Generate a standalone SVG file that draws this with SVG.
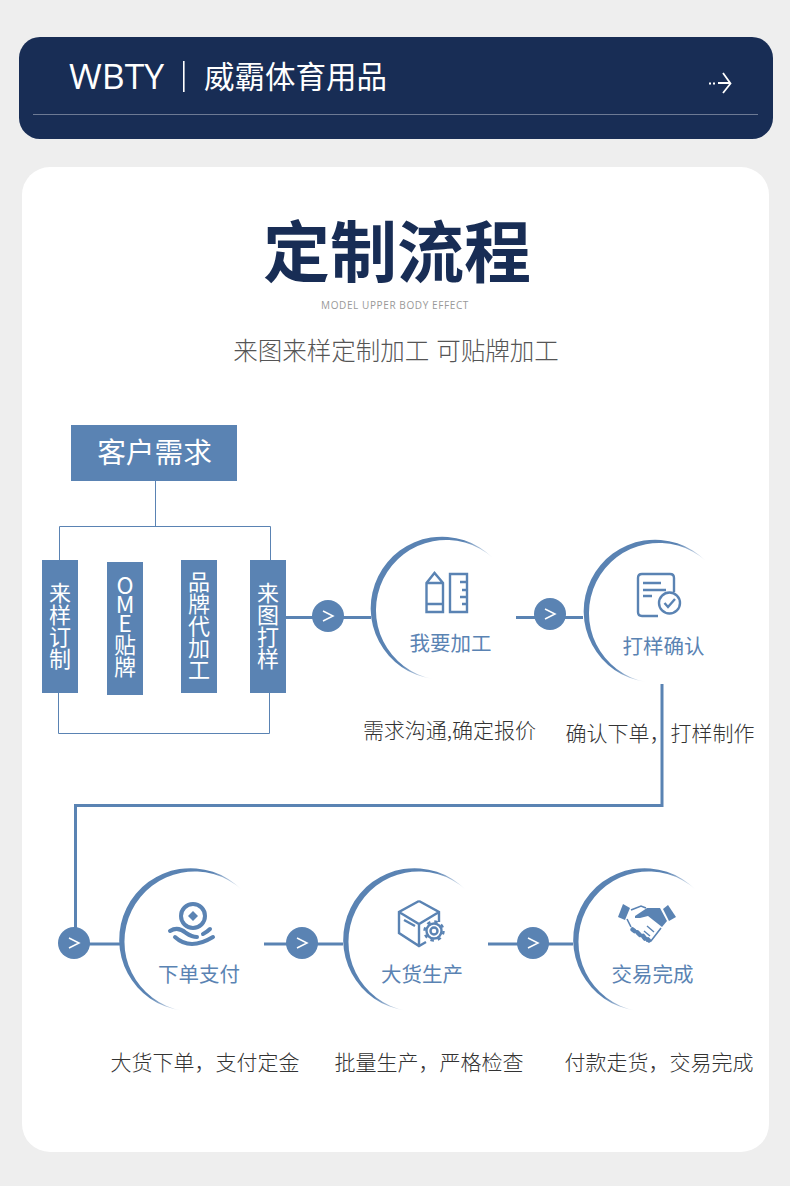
<svg xmlns="http://www.w3.org/2000/svg" width="790" height="1186" viewBox="0 0 790 1186">
<style>
text{font-family:"Noto Sans CJK SC","Noto Sans",sans-serif}
.thin{fill:none;stroke:#5a83b3;stroke-width:1}
.conn{fill:none;stroke:#5a83b3;stroke-width:3}
.box{fill:#5a83b3}
.vt{fill:#fff;font-size:22px;writing-mode:vertical-rl;text-orientation:upright;text-anchor:middle}
.vs{fill:#fff;font-size:22px;writing-mode:vertical-rl;text-orientation:upright;text-anchor:start}
.lbl{fill:#5a83b3;font-size:20.500px;text-anchor:middle}
.cap{fill:#333;font-size:21px;text-anchor:middle;font-weight:300}
.ic{fill:none;stroke:#5a83b3;stroke-width:2.400}
.icf{fill:#5a83b3}
.bd{fill:#5a83b3}
.chev{fill:none;stroke:#fff;stroke-width:1.500}
</style>
<defs>
<linearGradient id="fade" gradientUnits="userSpaceOnUse" x1="-63.600" y1="-31.500" x2="23" y2="11.400">
<stop offset="0" stop-color="#5a83b3"/><stop offset="0.62" stop-color="#5a83b3"/><stop offset="1" stop-color="#5a83b3" stop-opacity="0"/>
</linearGradient>
<path id="cres" fill="url(#fade)" d="M51,-50A71.440,71.440 0 1 0 -9,71A70.120,70.120 0 1 1 51,-50Z"/>
<g id="badge"><circle class="bd" r="16"/><path class="chev" d="M-5,-5L5,0L-5,5"/></g>
</defs>
<rect width="790" height="1186" fill="#eeeeee"/>
<g id="header">
<rect x="19" y="37" width="754" height="102" rx="21" fill="#182d55"/>
<text x="69" y="89" font-size="35.500" fill="#fff" style="font-family:'Open Sans','Noto Sans',sans-serif;font-weight:400">WBTY</text>
<rect x="183" y="61" width="1.600" height="31" fill="#fff"/>
<text x="204" y="88" font-size="30.500" fill="#fff">威霸体育用品</text>
<path d="M718,83H730M723,73L730.500,83.500L723,93" fill="none" stroke="#fff" stroke-width="1.800"/>
<rect x="709" y="82.500" width="2" height="2" fill="#fff"/><rect x="713" y="82.500" width="2" height="2" fill="#fff"/>
<rect x="33" y="114" width="725" height="1" fill="#6d7a94"/>
</g>
<rect id="card" x="22" y="167" width="747" height="985" rx="28" fill="#fff"/>
<g id="heading">
<text x="397" y="277" font-size="67" font-weight="700" fill="#182d55" text-anchor="middle">定制流程</text>
<text x="395" y="309" font-size="10" letter-spacing="0.600" fill="#999" text-anchor="middle" style="font-family:'Open Sans','Noto Sans',sans-serif">MODEL UPPER BODY EFFECT</text>
<text x="396" y="360" font-size="24.500" word-spacing="1.500" font-weight="300" fill="#555" text-anchor="middle">来图来样定制加工 可贴牌加工</text>
</g>
<g id="connectors">
<path class="thin" d="M155.500,481V526.500M59.500,560V526.500H270.500V560"/>
<path class="thin" d="M58.500,693V733.500H269.500V693"/>
<path class="conn" d="M286,617.500H371M516,617.500H583M662,684V805.500H75.500V930"/>
<path class="conn" d="M74,944H120M264,944H343M488,944H573"/>
</g>
<g id="n-demand"><rect class="box" x="71" y="425" width="166" height="56"/><text x="154.500" y="463" font-size="28.700" fill="#fff" text-anchor="middle">客户需求</text></g>
<g id="n-a"><rect class="box" x="42" y="560" width="36" height="133"/><text class="vt" x="60" y="625.500">来样订制</text></g>
<g id="n-b"><rect class="box" x="107" y="562" width="36" height="133"/><text class="vs" x="125" y="574" letter-spacing="-4" style="font-size:23px">OME</text><text class="vs" x="125" y="634">贴牌</text></g>
<g id="n-c"><rect class="box" x="181" y="560" width="36" height="133"/><text class="vt" x="199" y="625.500">品牌代加工</text></g>
<g id="n-d"><rect class="box" x="250" y="560" width="36" height="133"/><text class="vt" x="268" y="625.500">来图打样</text></g>
<use href="#badge" x="328" y="616"/>
<use href="#badge" x="550" y="614"/>
<use href="#badge" x="74" y="943"/>
<use href="#badge" x="302" y="943"/>
<use href="#badge" x="533" y="943"/>
<g id="n-work">
<use href="#cres" x="442" y="608"/>
<path class="ic" d="M426.500,612V583L434.500,573L443,583V612ZM426.500,583H443M426.500,604H443"/>
<path class="ic" d="M450,574H467V612H450ZM467,582H460M467,590H462M467,597H460M467,604H462"/>
<text class="lbl" x="450.500" y="651">我要加工</text>
</g>
<g id="n-sample">
<use href="#cres" x="655" y="611"/>
<path class="ic" d="M658,616H642Q638,616 638,612V578Q638,574 642,574H670Q674,574 674,578V592"/>
<path class="ic" d="M643,583H661M643,590H666M643,596H652"/>
<circle class="ic" cx="669.500" cy="603" r="10.500"/>
<path class="ic" d="M664.500,603L668,607L675,599"/>
<text class="lbl" x="663.500" y="654">打样确认</text>
</g>
<g id="n-pay">
<use href="#cres" x="190.500" y="939.500"/>
<circle cx="193" cy="916" r="12" fill="none" stroke="#5a83b3" stroke-width="4"/>
<path class="icf" d="M193,911L198,916L193,921L188,916Z"/>
<path d="M170,931Q178,926 186,933Q192,937 197,937M203,934Q207,932 210,929" fill="none" stroke="#5a83b3" stroke-width="4" stroke-linecap="round"/>
<path d="M175,937Q190,951 213,937" fill="none" stroke="#5a83b3" stroke-width="4" stroke-linecap="round"/>
<text class="lbl" x="199" y="982">下单支付</text>
</g>
<g id="n-make">
<use href="#cres" x="414.500" y="939.500"/>
<path class="ic" d="M419,901L439,912V922M419,901L399,912V933L419,946L426,942M399,912L419,924L439,912M419,924V946M404,920L415,926"/>
<circle class="ic" cx="434" cy="931" r="3.500"/>
<circle cx="434" cy="931" r="7.500" fill="none" stroke="#5a83b3" stroke-width="2.400"/>
<circle cx="434" cy="931" r="9.500" fill="none" stroke="#5a83b3" stroke-width="2.400" stroke-dasharray="3.500 3.960"/>
<text class="lbl" x="422" y="982">大货生产</text>
</g>
<g id="n-done">
<use href="#cres" x="644.500" y="939.500"/>
<path class="icf" d="M623,904L630,908L625,920L618,917Z"/>
<path class="icf" d="M668,905L676,917L669,921L663,909Z"/>
<path d="M631,910L641,906L646,908M627,919L631,927M661,928L651,941L646,941" fill="none" stroke="#5a83b3" stroke-width="1.600"/>
<path class="icf" d="M635,916L647,908L660,908L667,921L662,927L648,916L640,918L635,918Z"/>
<path d="M632.500,929.500L634.500,931M637.500,932.500L640,935M643,936L645,938.500M648,939.500L649,940.500" stroke="#5a83b3" stroke-width="4.500" stroke-linecap="round" fill="none"/>
<path d="M647,926L654,932M644,931L650,936" stroke="#5a83b3" stroke-width="1.400" fill="none"/>
<text class="lbl" x="652.500" y="982">交易完成</text>
</g>
<g id="captions">
<text class="cap" x="449.500" y="738">需求沟通,确定报价</text>
<text class="cap" x="660" y="741">确认下单，打样制作</text>
<text class="cap" x="205" y="1070">大货下单，支付定金</text>
<text class="cap" x="429" y="1070">批量生产，严格检查</text>
<text class="cap" x="659" y="1070">付款走货，交易完成</text>
</g>
</svg>
